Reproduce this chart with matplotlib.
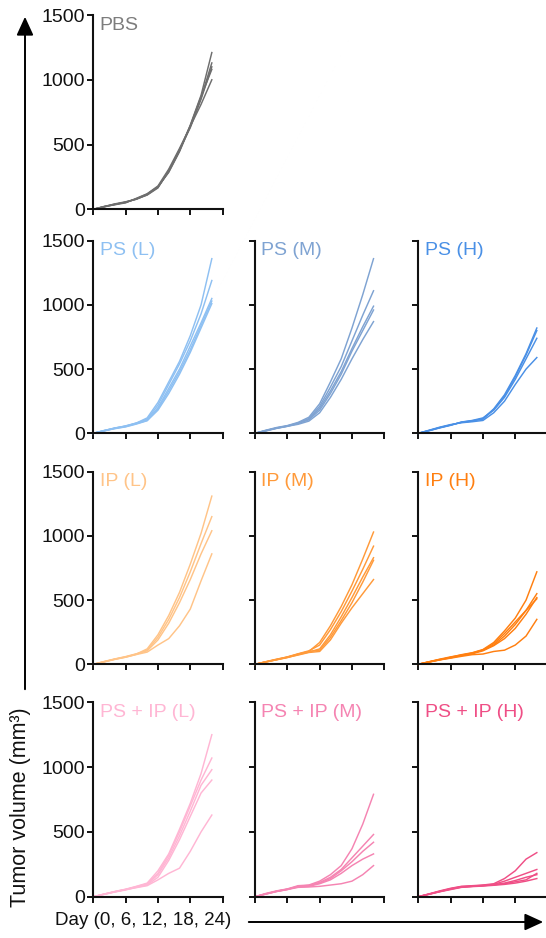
import matplotlib
matplotlib.use("Agg")
import matplotlib.pyplot as plt

plt.rcParams['font.family'] = ['Liberation Sans', 'DejaVu Sans']

days = [0, 2, 4, 6, 8, 10, 12, 14, 16, 18, 20, 22]
x_ticks = [0, 6, 12, 18, 24]
y_ticks = [0, 500, 1000, 1500]

pbs = [
    [0, 20, 38, 55, 78, 112, 170, 290, 450, 650, 880, 1210],
    [0, 22, 40, 52, 82, 118, 175, 285, 445, 640, 860, 1130],
    [0, 18, 37, 56, 80, 110, 165, 300, 460, 630, 850, 1100],
    [0, 21, 35, 50, 85, 120, 180, 310, 470, 640, 810, 1000],
    [0, 20, 42, 58, 78, 115, 172, 295, 455, 645, 870, 1080],
]
ps_l = [
    [0, 22, 40, 58, 80, 120, 240, 400, 560, 760, 1000, 1360],
    [0, 20, 42, 55, 78, 110, 220, 380, 540, 720, 930, 1190],
    [0, 18, 38, 52, 75, 100, 200, 350, 500, 680, 860, 1050],
    [0, 21, 40, 56, 80, 105, 190, 330, 480, 650, 840, 1030],
    [0, 20, 36, 50, 72, 98, 180, 310, 460, 630, 820, 1010],
]
ps_m = [
    [0, 24, 45, 60, 85, 125, 230, 400, 580, 820, 1080, 1360],
    [0, 20, 42, 58, 80, 115, 210, 360, 520, 720, 920, 1110],
    [0, 22, 40, 56, 78, 110, 195, 330, 480, 660, 830, 990],
    [0, 18, 38, 54, 76, 105, 180, 310, 460, 640, 800, 960],
    [0, 20, 40, 55, 70, 95, 160, 280, 420, 580, 730, 870],
]
ps_h = [
    [0, 22, 45, 65, 85, 95, 115, 190, 300, 450, 620, 820],
    [0, 20, 42, 62, 88, 100, 120, 180, 280, 420, 580, 740],
    [0, 24, 48, 68, 82, 90, 100, 160, 250, 380, 500, 590],
    [0, 21, 44, 64, 86, 98, 110, 185, 290, 440, 610, 800],
]
ip_l = [
    [0, 20, 40, 58, 80, 120, 230, 380, 560, 780, 1020, 1310],
    [0, 18, 38, 55, 78, 110, 210, 350, 520, 720, 940, 1150],
    [0, 22, 42, 60, 82, 105, 190, 320, 480, 660, 860, 1040],
    [0, 20, 40, 56, 76, 95, 150, 200, 300, 430, 650, 860],
]
ip_m = [
    [0, 18, 36, 55, 80, 100, 170, 300, 450, 620, 820, 1030],
    [0, 20, 38, 58, 82, 105, 150, 270, 410, 570, 740, 920],
    [0, 18, 35, 52, 75, 95, 120, 230, 370, 520, 680, 830],
    [0, 20, 40, 56, 78, 100, 110, 210, 340, 480, 640, 810],
    [0, 18, 36, 54, 72, 92, 100, 190, 320, 440, 550, 660],
]
ip_h = [
    [0, 18, 35, 55, 75, 90, 115, 170, 260, 360, 500, 720],
    [0, 20, 38, 52, 70, 85, 110, 150, 220, 310, 420, 550],
    [0, 18, 36, 50, 68, 82, 105, 145, 200, 280, 390, 520],
    [0, 20, 40, 58, 72, 88, 112, 160, 240, 330, 420, 510],
    [0, 18, 34, 48, 62, 75, 80, 100, 110, 150, 220, 350],
]
psip_l = [
    [0, 20, 40, 58, 80, 105, 200, 330, 520, 720, 950, 1250],
    [0, 18, 38, 55, 78, 100, 180, 320, 500, 700, 900, 1070],
    [0, 20, 40, 56, 75, 95, 170, 300, 470, 660, 860, 980],
    [0, 18, 36, 52, 72, 90, 150, 280, 440, 620, 800, 900],
    [0, 20, 38, 55, 70, 85, 130, 180, 220, 350, 500, 630],
]
psip_m = [
    [0, 25, 45, 60, 85, 90, 120, 170, 240, 370, 560, 790],
    [0, 22, 42, 58, 80, 88, 110, 150, 210, 300, 390, 480],
    [0, 20, 40, 55, 80, 85, 105, 140, 200, 270, 350, 420],
    [0, 22, 42, 58, 75, 80, 100, 130, 180, 240, 290, 330],
    [0, 20, 40, 55, 72, 75, 80, 90, 100, 120, 170, 240],
]
psip_h = [
    [0, 22, 45, 65, 80, 85, 90, 100, 140, 200, 290, 340],
    [0, 20, 42, 62, 78, 82, 88, 95, 120, 150, 180, 210],
    [0, 20, 40, 60, 75, 80, 85, 92, 100, 115, 130, 180],
    [0, 18, 38, 55, 72, 78, 82, 88, 95, 105, 120, 140],
    [0, 20, 40, 58, 74, 80, 86, 92, 105, 125, 150, 170],
]

group_names = ["PBS", "PS (L)", "PS (M)", "PS (H)", "IP (L)", "IP (M)", "IP (H)",
               "PS + IP (L)", "PS + IP (M)", "PS + IP (H)"]
group_data = [pbs, ps_l, ps_m, ps_h, ip_l, ip_m, ip_h, psip_l, psip_m, psip_h]
line_colors = ["#6e6e6e", "#8ec0f2", "#7fa3d2", "#4a90e6", "#ffc488", "#ff9a3a",
               "#ff7f10", "#ffb6d4", "#f584b2", "#ef4f86"]
text_colors = ["#7d7d7d", "#8ec0f2", "#7fa3d2", "#4a90e6", "#ffc488", "#ff9a3a",
               "#ff7f10", "#ffb6d4", "#f584b2", "#ef4f86"]
# grid positions (row, col)
grid_pos = [(0, 0), (1, 0), (1, 1), (1, 2), (2, 0), (2, 1), (2, 2), (3, 0), (3, 1), (3, 2)]

W, H = 546, 938
fig = plt.figure(figsize=(W / 100, H / 100), dpi=100)

col_left = [93.3, 255.0, 418.3]
col_w = 129.3
row_top = [15.0, 240.7, 471.7, 702.3]
row_bot = [209.3, 433.3, 664.3, 896.7]

for name, data, lc, tc, (r, c) in zip(group_names, group_data, line_colors, text_colors, grid_pos):
    ax = fig.add_axes([col_left[c] / W, 1 - row_bot[r] / H, col_w / W,
                       (row_bot[r] - row_top[r]) / H])
    for series in data:
        ax.plot(days, series, color=lc, lw=1.05, clip_on=False)
    ax.set_xlim(0, 24)
    ax.set_ylim(0, 1500)
    ax.set_xticks(x_ticks)
    ax.set_yticks(y_ticks)
    ax.set_xticklabels([])
    if c == 0:
        ax.set_yticklabels([str(v) for v in y_ticks], fontsize=14)
    else:
        ax.set_yticklabels([])
    for s in ['top', 'right']:
        ax.spines[s].set_visible(False)
    for s in ['left', 'bottom']:
        ax.spines[s].set_linewidth(1.5)
        ax.spines[s].set_color('#111111')
    ax.tick_params(direction='out', length=4, width=1.4, color='#111111', pad=2,
                   labelcolor='#111111')
    ax.patch.set_alpha(0)
    ax.text(0.05, 0.948, name, transform=ax.transAxes, color=tc, fontsize=14,
            ha='left', va='center')

# axis arrows and labels
fig.patches.append(matplotlib.patches.FancyArrowPatch(
    (25 / W, 1 - 692 / H), (25 / W, 1 - 14 / H), transform=fig.transFigure,
    arrowstyle='-|>,head_length=7,head_width=3.2', mutation_scale=1.6,
    color='black', lw=1.4))
fig.text(21 / W, 1 - 807 / H, "Tumor volume (mm³)", rotation=90, fontsize=15.5,
         ha='center', va='center', color='#111111')

fig.patches.append(matplotlib.patches.FancyArrowPatch(
    (246 / W, 1 - 922 / H), (546 / W, 1 - 922 / H), transform=fig.transFigure,
    arrowstyle='-|>,head_length=7,head_width=3.2', mutation_scale=1.6,
    color='black', lw=1.4))
fig.text(55 / W, 1 - 920 / H, "Day (0, 6, 12, 18, 24)", fontsize=13.5,
         ha='left', va='center', color='#111111')

fig.savefig("out.png", dpi=100)
